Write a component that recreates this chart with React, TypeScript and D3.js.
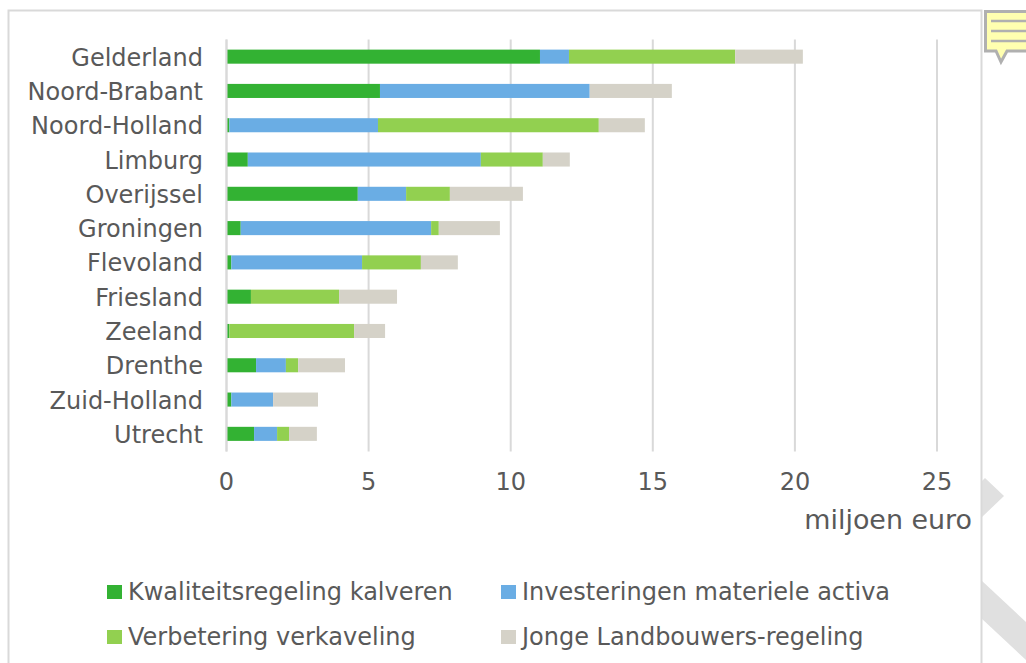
import React from "react";
import * as d3 from "d3";

const provinces = ["Gelderland", "Noord-Brabant", "Noord-Holland", "Limburg", "Overijssel", "Groningen", "Flevoland", "Friesland", "Zeeland", "Drenthe", "Zuid-Holland", "Utrecht"];
const kwaliteit = [11.03, 5.4, 0.1, 0.75, 4.62, 0.5, 0.17, 0.86, 0.1, 1.04, 0.17, 0.97];
const investeringen = [1.02, 7.38, 5.23, 8.2, 1.7, 6.7, 4.6, 0, 0, 1.05, 1.47, 0.81];
const verkaveling = [5.85, 0, 7.77, 2.18, 1.54, 0.27, 2.07, 3.1, 4.39, 0.43, 0, 0.42];
const jonge = [2.38, 2.89, 1.62, 0.95, 2.57, 2.15, 1.3, 2.04, 1.09, 1.65, 1.58, 0.98];

const seriesNames = ["Kwaliteitsregeling kalveren", "Investeringen materiele activa", "Verbetering verkaveling", "Jonge Landbouwers-regeling"];
const seriesColors = ["#33b233", "#6aade4", "#92d050", "#d5d2c8"];
const xTicks = [0, 5, 10, 15, 20, 25];

const font = "'DejaVu Sans', Verdana, sans-serif";
const textColor = "#595959";

export default function App() {
  const x = d3.scaleLinear().domain([0, 25]).range([226.5, 937]);
  const y = d3.scaleBand().domain(provinces).range([39.5, 451]).paddingInner(0.59).paddingOuter(0.295);

  const rows = provinces.map((name, i) => ({
    name,
    s0: kwaliteit[i],
    s1: investeringen[i],
    s2: verkaveling[i],
    s3: jonge[i],
  }));
  const stacked = d3.stack().keys(["s0", "s1", "s2", "s3"])(rows as any);

  const legendX = [107, 501];
  const legendY = [592, 637];

  return (
    <svg width={1026} height={663} style={{ position: "absolute", left: 0, top: 0, background: "#fff" }} fontFamily={font}>
      {/* watermark behind the chart frame */}
      <g fill="#e0e0e0">
        <path d="M981 482 L985 478 L1004 496 L981 518 Z" />
        <path d="M981 580 L1026 622 L1026 660 L981 618 Z" />
      </g>
      <rect x={8.5} y={10.5} width={973} height={670} fill="#fff" stroke="#d9d9d9" strokeWidth={2} />

      {/* note icon */}
      <g>
        <path d="M985.5 11.5 H1030 V51 H1007 L1001 62 L996 51 H985.5 Z" fill="#ffffb0" stroke="#b0b0b0" strokeWidth={3} />
        {[21, 31, 41].map((ly) => (
          <line key={ly} x1={991} x2={1026} y1={ly} y2={ly} stroke="#b0b0b0" strokeWidth={2.5} />
        ))}
      </g>

      {xTicks.map((t) => (
        <g key={t}>
          <line x1={x(t)} x2={x(t)} y1={39.5} y2={451.5} stroke="#d9d9d9" strokeWidth={2} />
          <text x={x(t)} y={490} textAnchor="middle" fontSize={24} fill={textColor}>{t}</text>
        </g>
      ))}

      {stacked.map((layer, si) => (
        <g key={si} fill={seriesColors[si]}>
          {layer.map((d: any, i) => (
            <rect key={i} x={x(d[0])} y={y(provinces[i])} width={x(d[1]) - x(d[0])} height={y.bandwidth()} />
          ))}
        </g>
      ))}
      {/* zero line sits on top of the bars */}
      <line x1={x(0)} x2={x(0)} y1={39.5} y2={451.5} stroke="#d9d9d9" strokeWidth={2} />

      {provinces.map((p) => (
        <text key={p} x={203} y={y(p)! + y.bandwidth() / 2 + 9} textAnchor="end" fontSize={24} fill={textColor}>{p}</text>
      ))}

      <text x={972} y={529} textAnchor="end" fontSize={26.9} fill={textColor}>miljoen euro</text>

      {seriesNames.map((name, i) => {
        const lx = legendX[i % 2];
        const ly = legendY[Math.floor(i / 2)];
        return (
          <g key={name}>
            <rect x={lx} y={ly - 7} width={15} height={14} fill={seriesColors[i]} />
            <text x={lx + 21} y={ly + 8} fontSize={24} fill={textColor}>{name}</text>
          </g>
        );
      })}
    </svg>
  );
}
